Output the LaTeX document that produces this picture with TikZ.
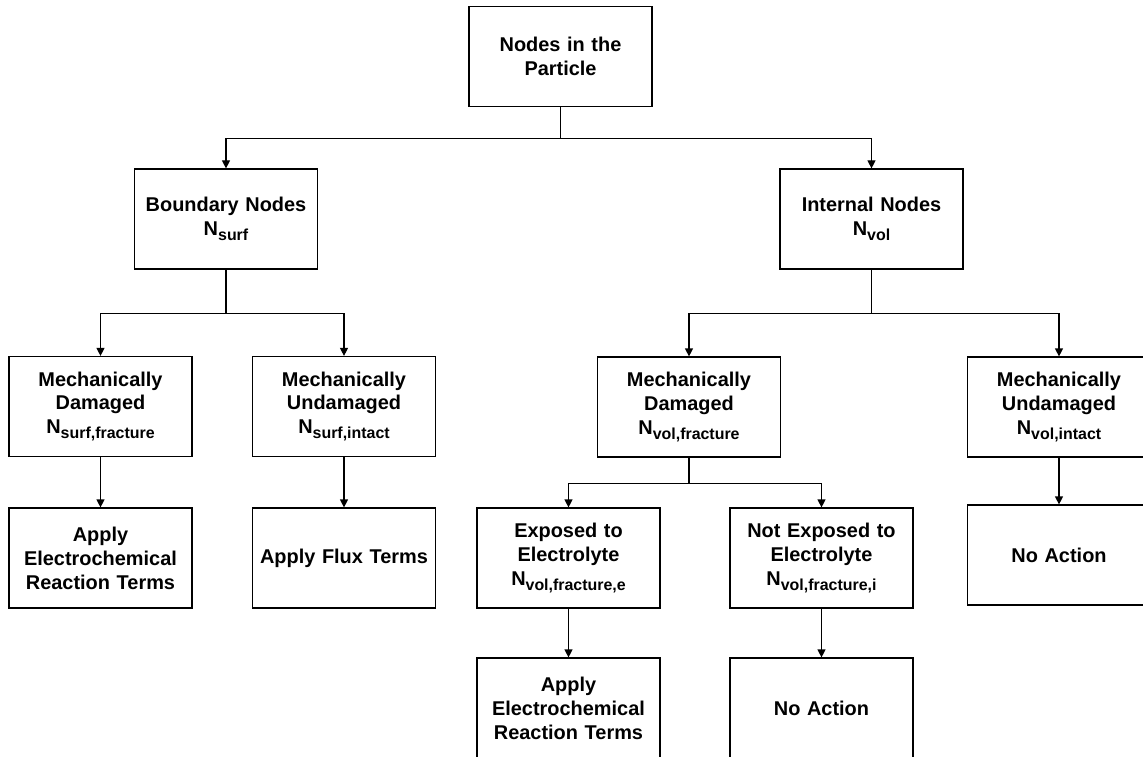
\documentclass[tikz,border=0pt]{standalone}
\usepackage{fontspec}
\setmainfont{Liberation Sans}
\usetikzlibrary{arrows.meta}

% lowered index text of the node counts
\newcommand{\nidx}[1]{\raisebox{-5bp}{\fontsize{16}{16}\selectfont #1}}

\begin{document}
\begin{tikzpicture}[
	x=1bp, y=-1bp,
	cell/.style={
		rectangle,
		draw,
		line width=1.2bp,
		align=center,
		text width=178bp,
		minimum width=183bp,
		minimum height=100bp,
		inner sep=0pt,
		font=\bfseries\fontsize{20}{24}\selectfont
	},
	ArrowC1/.style={% Elbow arrows between levels
		line width=1.2bp,
		-{Triangle[length=8bp,width=8bp]},
	},
]
	\useasboundingbox (0,0) rectangle (1143,757);

	\node [cell] (top) at (560.5,56.5) {Nodes in the\\Particle};

	\node [cell] (bnd) at (226,219) {Boundary Nodes\\N\nidx{surf}};
	\node [cell] (int) at (871.5,219) {Internal Nodes\\N\nidx{vol}};

	\node [cell] (sdam) at (100.5,406.5) {Mechanically\\Damaged\\N\nidx{surf,fracture}};
	\node [cell] (sund) at (344,406.5) {Mechanically\\Undamaged\\N\nidx{surf,intact}};
	\node [cell] (vdam) at (689,407) {Mechanically\\Damaged\\N\nidx{vol,fracture}};
	\node [cell] (vund) at (1059,407) {Mechanically\\Undamaged\\N\nidx{vol,intact}};

	\node [cell] (sapp) at (100.5,558) {Apply\\Electrochemical\\Reaction Terms};
	\node [cell] (sflux) at (344,558) {Apply Flux Terms};
	\node [cell] (vexp) at (568.5,558) {Exposed to\\Electrolyte\\N\nidx{vol,fracture,e}};
	\node [cell] (vnexp) at (821.5,558) {Not Exposed to\\Electrolyte\\N\nidx{vol,fracture,i}};
	\node [cell] (vnone) at (1059,555) {No Action};

	\node [cell] (eapp) at (568.5,708) {Apply\\Electrochemical\\Reaction Terms};
	\node [cell] (inone) at (821.5,708) {No Action};

	\draw [ArrowC1] (top.south) -- ++(0,31) -| (bnd);
	\draw [ArrowC1] (top.south) -- ++(0,31) -| (int);

	\draw [ArrowC1] (bnd.south) -- ++(0,43.5) -| (sdam);
	\draw [ArrowC1] (bnd.south) -- ++(0,43.5) -| (sund);
	\draw [ArrowC1] (int.south) -- ++(0,44) -| (vdam);
	\draw [ArrowC1] (int.south) -- ++(0,44) -| (vund);

	\draw [ArrowC1] (sdam) -- (sapp);
	\draw [ArrowC1] (sund) -- (sflux);
	\draw [ArrowC1] (vdam.south) -- ++(0,26) -| (vexp);
	\draw [ArrowC1] (vdam.south) -- ++(0,26) -| (vnexp);
	\draw [ArrowC1] (vund) -- (vnone);

	\draw [ArrowC1] (vexp) -- (eapp);
	\draw [ArrowC1] (vnexp) -- (inone);
\end{tikzpicture}
\end{document}
